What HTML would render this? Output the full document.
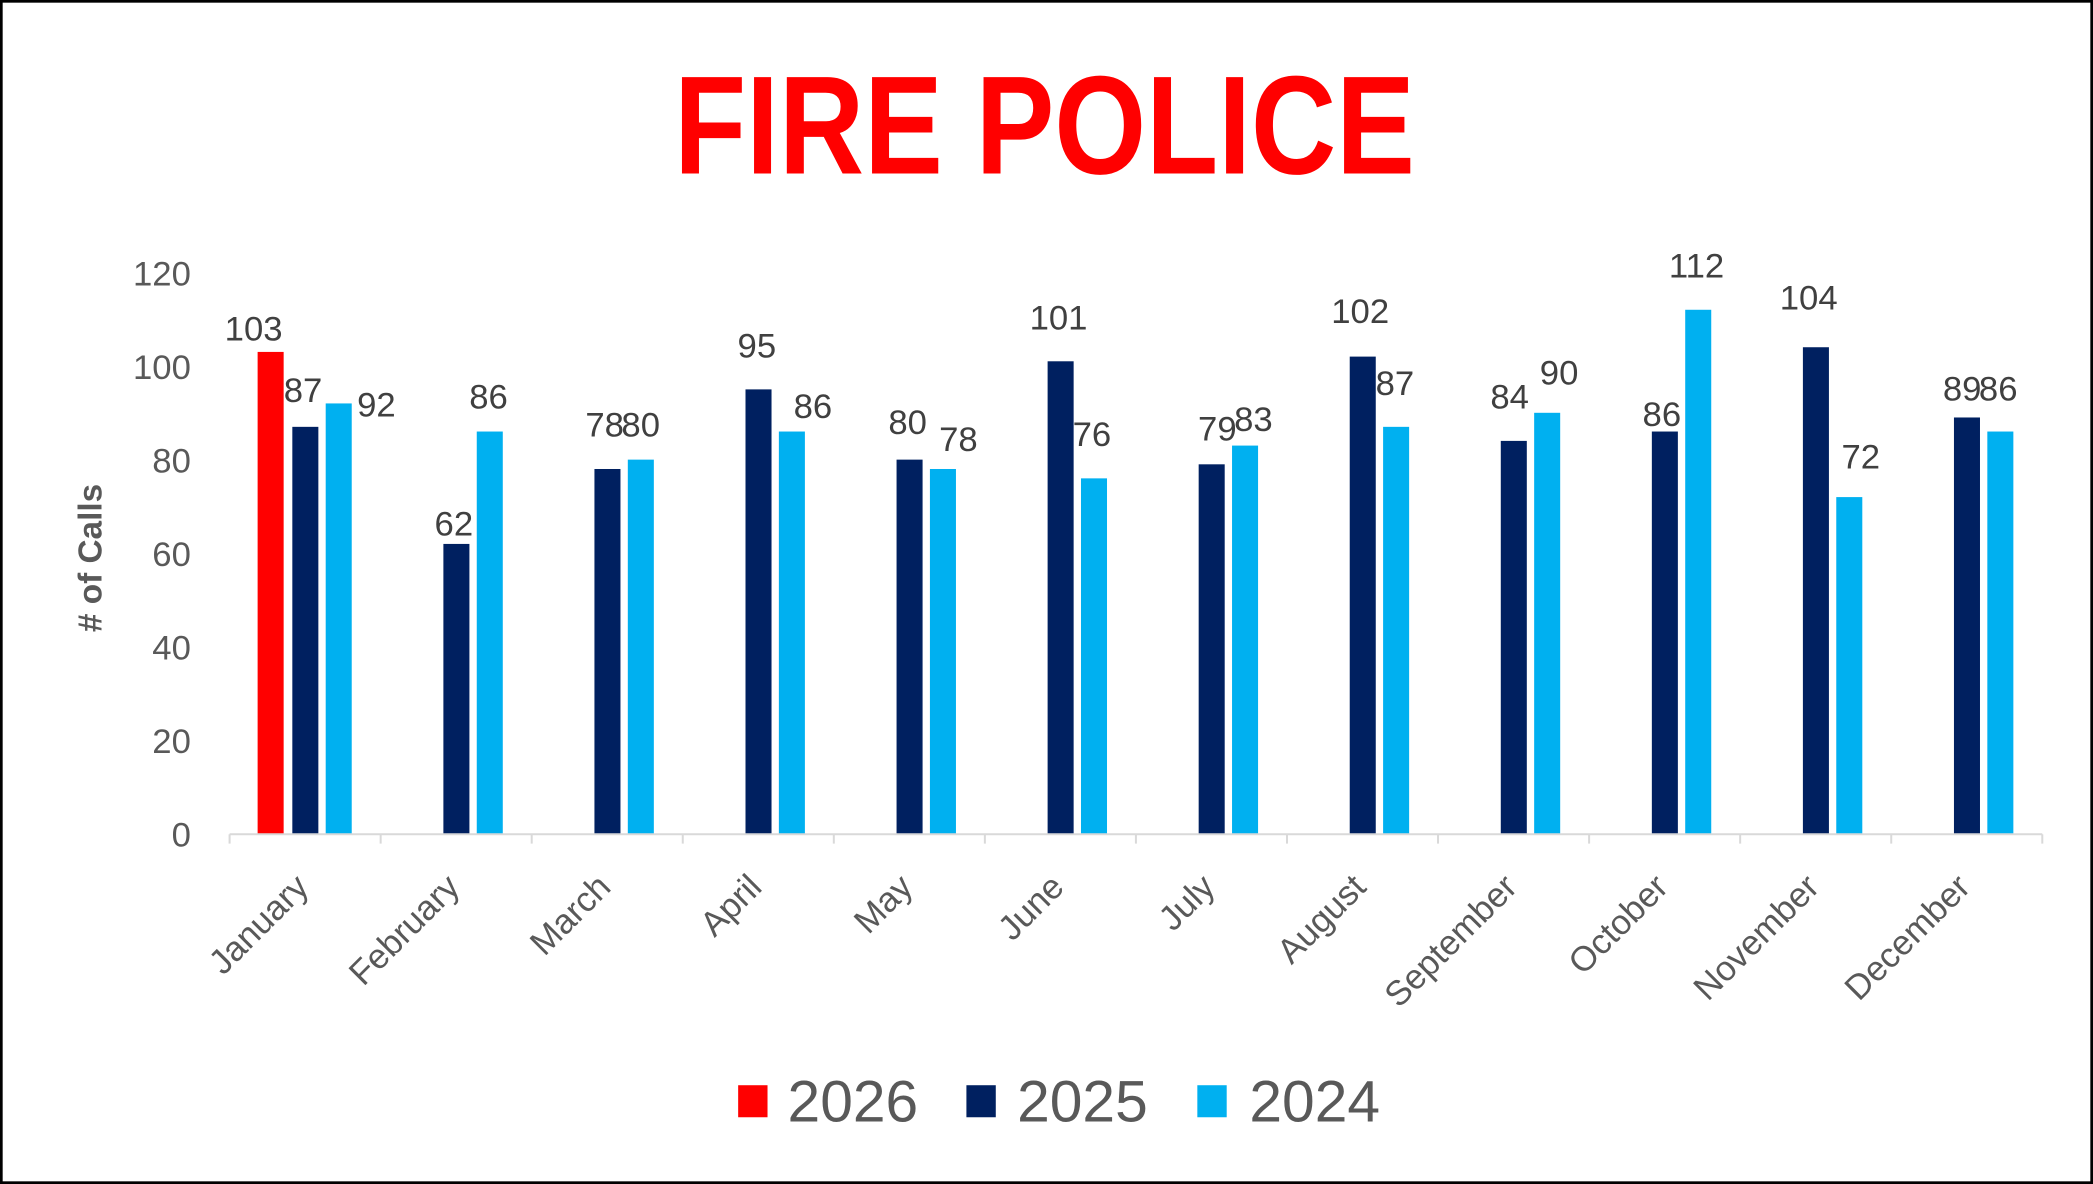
<!DOCTYPE html>
<html><head><meta charset="utf-8"><style>
html,body{margin:0;padding:0;background:#fff}
svg{display:block}
text{font-family:"Liberation Sans",Arial,sans-serif}
</style></head><body>
<svg width="2093" height="1184" viewBox="0 0 1568 887" preserveAspectRatio="none" xmlns="http://www.w3.org/2000/svg">
<rect x="1" y="1" width="1566" height="885" fill="#fff" stroke="#000" stroke-width="2"/>
<text x="505" y="130" font-size="105" font-weight="bold" fill="#ff0000" textLength="555" lengthAdjust="spacingAndGlyphs">FIRE POLICE</text>
<g font-size="26" fill="#595959" text-anchor="end">
<text x="143" y="634">0</text><text x="143" y="564">20</text><text x="143" y="494">40</text><text x="143" y="424">60</text><text x="143" y="354">80</text><text x="143" y="284">100</text><text x="143" y="214">120</text>
</g>
<text transform="translate(76,418) rotate(-90)" font-size="25" font-weight="bold" fill="#595959" text-anchor="middle">&#35; of Calls</text>
<g id="bars"></g>
<line x1="172" y1="625" x2="1530" y2="625" stroke="#d9d9d9" stroke-width="1.5"/>
<g id="ticks" stroke="#d9d9d9" stroke-width="1.5"></g>
<g id="labels" font-size="26" fill="#404040" text-anchor="middle"></g>
<g id="months" font-size="26" fill="#595959" text-anchor="end"></g>
<rect x="553" y="813" width="22" height="24" fill="#ff0000"/>
<text x="590" y="840" font-size="44" fill="#595959">2026</text>
<rect x="724" y="813" width="22" height="24" fill="#002060"/>
<text x="762" y="840" font-size="44" fill="#595959">2025</text>
<rect x="897" y="813" width="22" height="24" fill="#00b0f0"/>
<text x="936" y="840" font-size="44" fill="#595959">2024</text>
</svg>
<script>
var ns="http://www.w3.org/2000/svg";
var months=["January","February","March","April","May","June","July","August","September","October","November","December"];
var v25=[87,62,78,95,80,101,79,102,84,86,104,89];
var v24=[92,86,80,86,78,76,83,87,90,112,72,86];
var cw=(1530-172)/12, k=(625-204)/120;
function el(t,a,p,txt){var e=document.createElementNS(ns,t);for(var q in a)e.setAttribute(q,a[q]);if(txt)e.textContent=txt;document.getElementById(p).appendChild(e);}
for(var i=0;i<12;i++){
 var x0=172+cw*i;
 if(i==0) el("rect",{x:x0+21,y:625-103*k,width:19.5,height:103*k,fill:"#ff0000"},"bars");
 el("rect",{x:x0+47,y:625-v25[i]*k,width:19.5,height:v25[i]*k,fill:"#002060"},"bars");
 el("rect",{x:x0+72,y:625-v24[i]*k,width:19.5,height:v24[i]*k,fill:"#00b0f0"},"bars");
 el("line",{x1:x0,y1:625,x2:x0,y2:632},"ticks");
 var cx=x0+cw/2+4;
 el("text",{transform:"translate("+cx+",666) rotate(-45)"},"months",months[i]);
}
el("line",{x1:1530,y1:625,x2:1530,y2:632},"ticks");
var L=[[190,246,"103"],[227,292,"87"],[282,303,"92"],[340,392,"62"],[366,297,"86"],[453,318,"78"],[480,318,"80"],[567,259,"95"],[609,304,"86"],[680,316,"80"],[718,329,"78"],[793,238,"101"],[818,325,"76"],[912,321,"79"],[939,314,"83"],[1019,233,"102"],[1045,287,"87"],[1131,297,"84"],[1168,279,"90"],[1245,310,"86"],[1271,199,"112"],[1355,223,"104"],[1394,342,"72"],[1470,291,"89"],[1497,291,"86"]];
L.forEach(function(l){el("text",{x:l[0],y:l[1]+9},"labels",l[2]);});
</script>
</body></html>
